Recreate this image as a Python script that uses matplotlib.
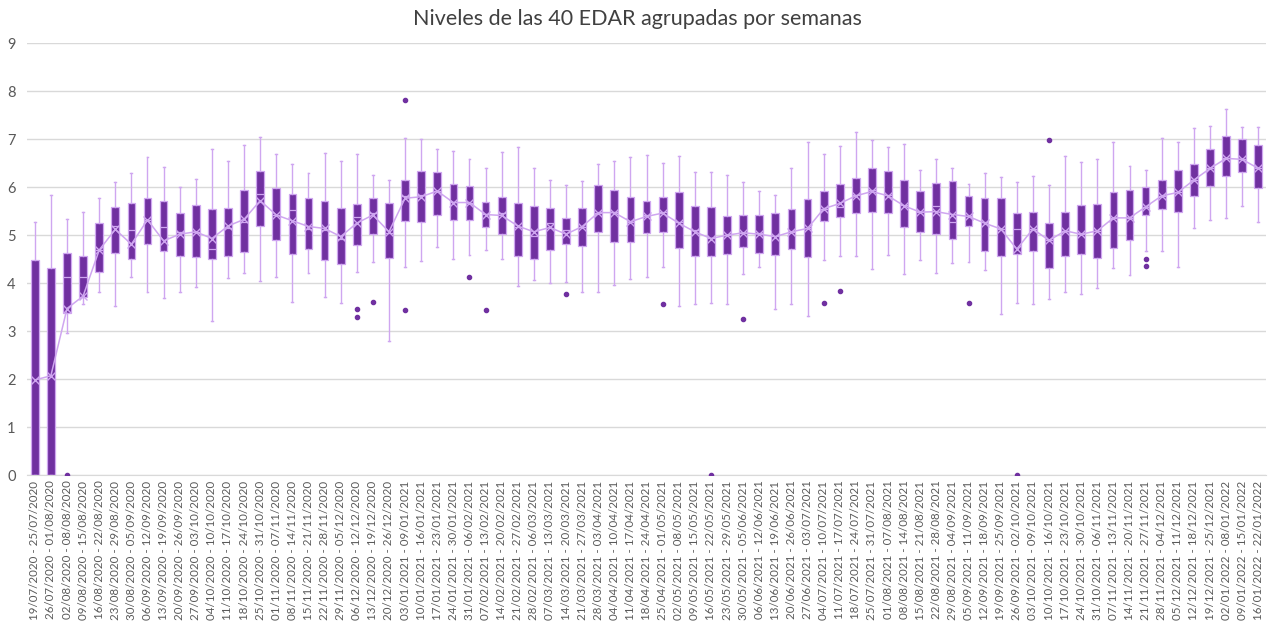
import numpy as np
import pandas as pd
import matplotlib
matplotlib.use("Agg")
import matplotlib.pyplot as plt

# semanas (fecha de inicio); faltan 27/12/2020 y 26/12/2021
week_starts = [
    "19/07/2020", "26/07/2020", "02/08/2020", "09/08/2020", "16/08/2020", "23/08/2020",
    "30/08/2020", "06/09/2020", "13/09/2020", "20/09/2020", "27/09/2020", "04/10/2020",
    "11/10/2020", "18/10/2020", "25/10/2020", "01/11/2020", "08/11/2020", "15/11/2020",
    "22/11/2020", "29/11/2020", "06/12/2020", "13/12/2020", "20/12/2020",
    "03/01/2021", "10/01/2021", "17/01/2021", "24/01/2021", "31/01/2021", "07/02/2021",
    "14/02/2021", "21/02/2021", "28/02/2021", "07/03/2021", "14/03/2021", "21/03/2021",
    "28/03/2021", "04/04/2021", "11/04/2021", "18/04/2021", "25/04/2021", "02/05/2021",
    "09/05/2021", "16/05/2021", "23/05/2021", "30/05/2021", "06/06/2021", "13/06/2021",
    "20/06/2021", "27/06/2021", "04/07/2021", "11/07/2021", "18/07/2021", "25/07/2021",
    "01/08/2021", "08/08/2021", "15/08/2021", "22/08/2021", "29/08/2021", "05/09/2021",
    "12/09/2021", "19/09/2021", "26/09/2021", "03/10/2021", "10/10/2021", "17/10/2021",
    "24/10/2021", "31/10/2021", "07/11/2021", "14/11/2021", "21/11/2021", "28/11/2021",
    "05/12/2021", "12/12/2021", "19/12/2021",
    "02/01/2022", "09/01/2022", "16/01/2022",
]

whis_lo = [0, 0, 2.95, 3.56, 3.82, 3.52, 4.13, 3.81, 3.68, 3.81, 3.91, 3.21, 4.10, 4.22, 4.05, 4.12,
           3.61, 4.22, 3.72, 3.58, 4.23, 4.43, 2.80, 4.33, 4.46, 4.76, 4.50, 4.59, 4.69, 4.50, 3.95,
           4.07, 4.00, 4.02, 3.82, 3.82, 3.97, 4.09, 4.12, 4.33, 3.52, 3.56, 3.59, 3.56, 4.18, 4.33,
           3.47, 3.57, 3.31, 4.48, 4.57, 4.57, 4.29, 4.59, 4.18, 4.48, 4.22, 4.41, 4.43, 4.27, 3.35,
           3.58, 3.56, 3.67, 3.81, 3.77, 3.89, 4.31, 4.16, 4.66, 4.66, 4.34, 5.14, 5.32, 5.35, 5.61, 5.28]
q1 = [0, 0, 3.38, 3.72, 4.24, 4.62, 4.50, 4.82, 4.66, 4.57, 4.55, 4.50, 4.57, 4.64, 5.19, 4.90,
      4.61, 4.71, 4.48, 4.39, 4.80, 5.02, 4.52, 5.30, 5.28, 5.43, 5.32, 5.32, 5.18, 5.02, 4.57,
      4.50, 4.69, 4.82, 4.78, 5.06, 4.86, 4.86, 5.04, 5.07, 4.73, 4.57, 4.57, 4.61, 4.76, 4.62,
      4.59, 4.71, 4.54, 5.30, 5.37, 5.47, 5.49, 5.46, 5.18, 5.06, 5.02, 4.92, 5.19, 4.66, 4.57,
      4.61, 4.67, 4.32, 4.57, 4.60, 4.53, 4.73, 4.90, 5.42, 5.54, 5.48, 5.82, 6.03, 6.24, 6.31, 5.98]
medians = [0, 0, 4.13, 4.13, 4.70, 5.19, 5.10, 5.32, 5.16, 5.07, 5.07, 4.71, 5.15, 5.28, 5.86, 5.42,
           5.52, 5.12, 5.10, 4.93, 5.37, 5.47, 5.05, 5.82, 5.84, 5.92, 5.70, 5.66, 5.45, 5.47, 5.17,
           4.98, 5.25, 5.11, 5.18, 5.47, 5.49, 5.28, 5.41, 5.48, 5.28, 5.10, 4.95, 5.00, 5.05, 5.05,
           4.98, 5.07, 5.14, 5.55, 5.59, 5.84, 5.94, 5.84, 5.63, 5.49, 5.61, 5.28, 5.39, 5.28, 5.13,
           5.12, 5.13, 4.89, 5.09, 5.02, 5.09, 5.36, 5.36, 5.59, 5.82, 5.89, 6.15, 6.39, 6.60, 6.58, 6.39]
q3 = [4.48, 4.31, 4.62, 4.57, 5.26, 5.59, 5.66, 5.78, 5.71, 5.47, 5.62, 5.55, 5.57, 5.94, 6.34, 5.98,
      5.85, 5.78, 5.71, 5.56, 5.64, 5.77, 5.66, 6.16, 6.34, 6.31, 6.06, 6.03, 5.70, 5.79, 5.68,
      5.61, 5.56, 5.36, 5.57, 6.04, 5.95, 5.80, 5.71, 5.79, 5.90, 5.61, 5.59, 5.39, 5.41, 5.43,
      5.47, 5.55, 5.75, 5.92, 6.07, 6.20, 6.41, 6.34, 6.16, 5.92, 6.08, 6.13, 5.82, 5.77, 5.77,
      5.46, 5.49, 5.25, 5.48, 5.62, 5.64, 5.90, 5.94, 6.01, 6.15, 6.36, 6.48, 6.80, 7.07, 7.00, 6.88]
whis_hi = [5.28, 5.84, 5.33, 5.48, 5.77, 6.10, 6.29, 6.62, 6.43, 6.00, 6.18, 6.79, 6.55, 6.88, 7.04, 6.69,
           6.48, 6.29, 6.71, 6.55, 6.69, 6.25, 6.16, 7.02, 7.00, 6.80, 6.76, 6.58, 6.39, 6.73, 6.83,
           6.41, 6.14, 6.05, 6.12, 6.48, 6.55, 6.62, 6.67, 6.51, 6.64, 6.31, 6.31, 6.25, 6.10, 5.91,
           5.84, 6.41, 6.95, 6.69, 6.85, 7.16, 6.98, 6.83, 6.91, 6.36, 6.58, 6.41, 6.06, 6.30, 6.22,
           6.10, 6.23, 6.05, 6.64, 6.53, 6.58, 6.94, 6.45, 6.36, 7.02, 6.94, 7.23, 7.28, 7.62, 7.25, 7.25]
means = [1.98, 2.07, 3.47, 3.73, 4.69, 5.12, 4.81, 5.32, 4.88, 5.02, 5.07, 4.93, 5.19, 5.33, 5.72, 5.42,
         5.30, 5.18, 5.14, 4.97, 5.25, 5.42, 5.07, 5.77, 5.80, 5.92, 5.68, 5.68, 5.43, 5.41, 5.19,
         5.07, 5.16, 5.02, 5.18, 5.47, 5.47, 5.28, 5.39, 5.46, 5.25, 5.07, 4.93, 5.00, 5.05, 5.02,
         4.97, 5.07, 5.14, 5.55, 5.66, 5.82, 5.91, 5.82, 5.61, 5.48, 5.49, 5.43, 5.39, 5.25, 5.13,
         4.71, 5.13, 4.89, 5.09, 5.02, 5.09, 5.36, 5.36, 5.59, 5.82, 5.89, 6.15, 6.39, 6.60, 6.58, 6.39]

# valores atipicos: indice de semana -> valores
outliers = {2: [0.0], 20: [3.46, 3.29], 21: [3.60], 23: [7.82, 3.43], 27: [4.13], 28: [3.45],
            33: [3.78], 39: [3.57], 42: [0.0], 44: [3.25], 49: [3.59], 50: [3.83], 58: [3.59],
            61: [0.0], 63: [6.98], 69: [4.50, 4.36]}

starts = pd.to_datetime(week_starts, format="%d/%m/%Y")
labels = [f"{s:%d/%m/%Y} - {(s + pd.Timedelta(days=6)):%d/%m/%Y}" for s in starts]

dark = "#7030A0"
light = "#CFA6F0"

stats = []
for i in range(len(labels)):
    stats.append({"whislo": whis_lo[i], "q1": q1[i], "med": medians[i], "q3": q3[i],
                  "whishi": whis_hi[i], "mean": means[i], "fliers": outliers.get(i, [])})

plt.rcParams["font.family"] = ["Lato", "DejaVu Sans"]
fig = plt.figure(figsize=(12.74, 6.27), dpi=100)
ax = fig.add_axes([0.021, 0.2424, 0.973, 0.6886])

pos = np.arange(len(labels))
ax.bxp(stats, positions=pos, widths=0.48, patch_artist=True, showmeans=True,
       boxprops=dict(facecolor=dark, edgecolor=light, linewidth=0.9),
       medianprops=dict(color=light, linewidth=0.9),
       whiskerprops=dict(color=light, linewidth=1.0),
       capprops=dict(color=light, linewidth=1.0),
       capwidths=0.12,
       flierprops=dict(marker="o", markersize=3, markerfacecolor=dark, markeredgecolor=dark),
       meanprops=dict(marker="x", markersize=6, markeredgecolor=light, markeredgewidth=1.0),
       zorder=3)
ax.plot(pos, means, color=light, linewidth=1.1, zorder=4)

ax.set_xlim(-0.5, len(labels) - 0.5)
ax.set_ylim(0, 9)
ax.set_yticks(range(10))
ax.set_xticks(pos)
ax.set_xticklabels(labels, rotation=90, fontsize=8.3, color="#595959")
ax.tick_params(axis="y", labelsize=10.5, colors="#595959", length=0, pad=8)
ax.tick_params(axis="x", length=0, pad=4)
ax.grid(axis="y", color="#D9D9D9", linewidth=1.0, zorder=0)
ax.set_axisbelow(True)
for side in ["top", "right", "left"]:
    ax.spines[side].set_visible(False)
ax.spines["bottom"].set_color("#D9D9D9")

fig.suptitle("Niveles de las 40 EDAR agrupadas por semanas", y=0.985, fontsize=15.5, color="#404040")

fig.savefig("out.png", dpi=100)
